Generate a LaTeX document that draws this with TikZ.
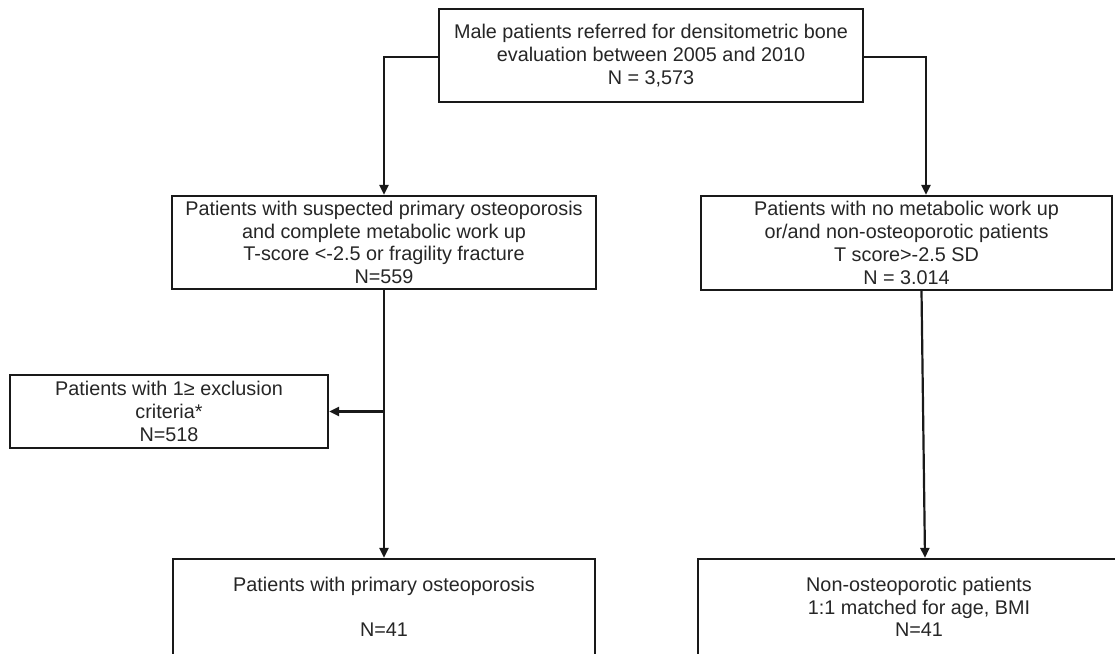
\documentclass[tikz,border=0pt]{standalone}
\usepackage{fontspec}
\setmainfont{Liberation Sans}
\usetikzlibrary{arrows.meta}
\begin{document}
\begin{tikzpicture}[x=1pt,y=-1pt,
  box/.style={draw=black!90, line width=2.3pt, rectangle, align=center, inner sep=0pt,
    font=\fontsize{19.8}{22.8}\selectfont, text=black!85},
  arr/.style={draw=black!90, line width=2.2pt, -{Triangle[length=10pt,width=9pt]}}]
\useasboundingbox (0,0) rectangle (1115,653);
\clip (0,0) rectangle (1115,653);
\fill[white] (0,0) rectangle (1115,653);

\node[box, minimum width=424pt, minimum height=93pt] (top) at (651,55.5)
  {Male patients referred for densitometric bone\\evaluation between 2005 and 2010\\N = 3,573};
\node[box, minimum width=424pt, minimum height=93pt] (l2) at (384,242.5)
  {Patients with suspected primary osteoporosis\\and complete metabolic work up\\T-score <-2.5 or fragility fracture\\N=559};
\node[box, minimum width=411pt, minimum height=94pt] (r2) at (906.5,243)
  {Patients with no metabolic work up\\or/and non-osteoporotic patients\\T score>-2.5 SD\\N = 3.014};
\node[box, minimum width=318pt, minimum height=73pt] (ex) at (169,411.5)
  {Patients with 1≥ exclusion\\criteria*\\N=518};
\node[box, minimum width=422pt, minimum height=96pt] (l3) at (384,607)
  {Patients with primary osteoporosis\\\mbox{}\\N=41};
\node[box, minimum width=442pt, minimum height=96pt] (r3) at (919,607)
  {Non-osteoporotic patients\\1:1 matched for age, BMI\\N=41};

\coordinate (rin) at ([xshift=19.5pt]r2.north);
\coordinate (rout) at ([xshift=15pt]r2.south);
\coordinate (r3in) at ([xshift=6pt]r3.north);
\coordinate (split) at (l2.south |- ex.east);

\draw[arr] ([yshift=-1.5pt]top.west) -| (l2.north);
\draw[arr] ([yshift=-1.5pt]top.east) -| (rin);
\draw[arr] (l2.south) -- (l3.north);
\draw[arr] (split) -- (ex.east);
\draw[arr] (rout) -- (r3in);
\end{tikzpicture}
\end{document}
